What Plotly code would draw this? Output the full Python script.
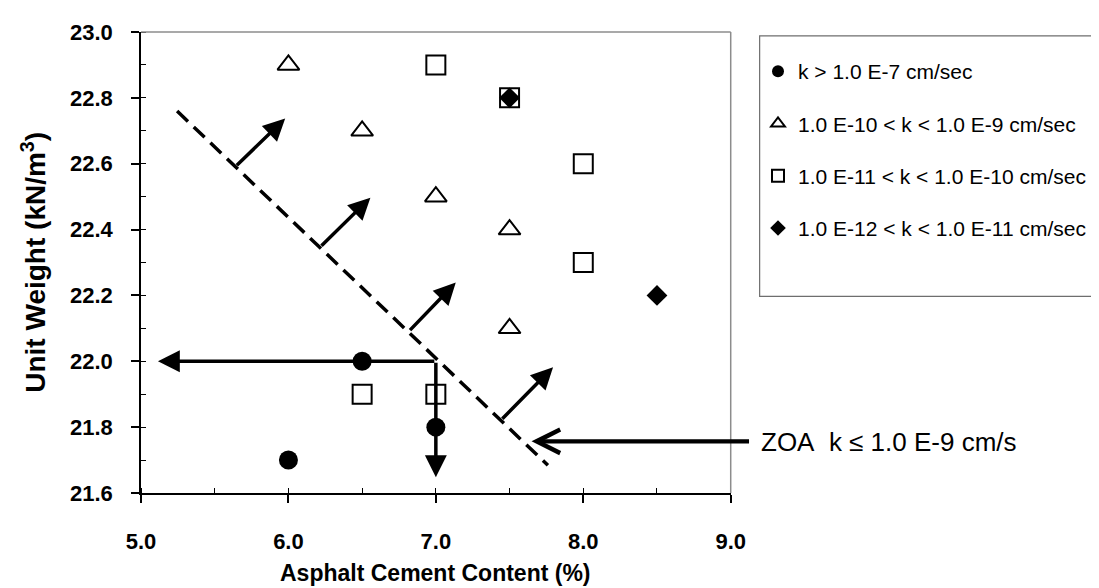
import plotly.graph_objects as go

# ---- data ----
circ_x = [6.0, 6.5, 7.0]
circ_y = [21.7, 22.0, 21.8]
tri_x = [6.0, 6.5, 7.0, 7.5, 7.5]
tri_y = [22.9, 22.7, 22.5, 22.4, 22.1]
sq_x = [7.0, 7.5, 8.0, 8.0, 6.5, 7.0]
sq_y = [22.9, 22.8, 22.6, 22.3, 21.9, 21.9]
dia_x = [7.5, 8.5]
dia_y = [22.8, 22.2]

series_names = [
    "k &gt; 1.0 E-7 cm/sec",
    "1.0 E-10 &lt; k &lt; 1.0 E-9 cm/sec",
    "1.0 E-11 &lt; k &lt; 1.0 E-10 cm/sec",
    "1.0 E-12 &lt; k &lt; 1.0 E-11 cm/sec",
]

# ZOA boundary (dashed line) end points
zoa_x = [5.245, 7.76]
zoa_y = [22.76, 21.684]

# perpendicular arrows (tail on the boundary -> head)
perp_tail_x = [5.64, 6.214, 6.815, 7.441]
perp_tail_y = [22.591, 22.346, 22.090, 21.821]
perp_head_x = [5.978, 6.556, 7.135, 7.795]
perp_head_y = [22.737, 22.497, 22.239, 21.982]

# read-off arrows from the (7.0, 22.0) point
read_x0, read_y0 = 7.0, 22.0
read_left_x = 5.115
read_down_y = 21.648

# ZOA label arrow head
zoa_arrow_x, zoa_arrow_y = 7.649, 21.757
zoa_label = "ZOA\u00a0\u00a0k \u2264 1.0 E-9 cm/s"

x_ticks = [5.0, 6.0, 7.0, 8.0, 9.0]
y_ticks = [21.6, 21.8, 22.0, 22.2, 22.4, 22.6, 22.8, 23.0]

FONT = "Liberation Sans, Arial, sans-serif"

# plot area in pixels (for paper-coordinate conversions)
L, R, T, B = 133, 724, 21, 485
PW, PH = R - L, B - T


def px_x(p):
    return (p - L) / PW


def px_y(p):
    return (B - p) / PH


fig = go.Figure()

fig.add_trace(go.Scatter(
    x=zoa_x, y=zoa_y, mode="lines", showlegend=False, hoverinfo="skip",
    line=dict(color="black", width=3.5, dash="15px,8px")))

fig.add_trace(go.Scatter(
    x=circ_x, y=circ_y, mode="markers", name=series_names[0], legendgroup="g1",
    marker=dict(symbol="circle", size=19, color="black")))
fig.add_trace(go.Scatter(
    x=tri_x, y=tri_y, mode="markers", name=series_names[1], legendgroup="g2",
    marker=dict(symbol="triangle-up-open", size=19, color="black",
                line=dict(width=2, color="black"))))
fig.add_trace(go.Scatter(
    x=sq_x, y=sq_y, mode="markers", name=series_names[2], legendgroup="g3",
    marker=dict(symbol="square-open", size=19, color="black",
                line=dict(width=2, color="black"))))
fig.add_trace(go.Scatter(
    x=dia_x, y=dia_y, mode="markers", name=series_names[3], legendgroup="g4",
    marker=dict(symbol="diamond", size=16, color="black")))

AW, AS = 3.5, 1.25
annotations = []
for tx, ty, hx, hy in zip(perp_tail_x, perp_tail_y, perp_head_x, perp_head_y):
    annotations.append(dict(
        x=hx, y=hy, ax=tx, ay=ty, xref="x", yref="y", axref="x", ayref="y",
        text="", showarrow=True, arrowhead=2, arrowsize=AS, arrowwidth=AW,
        arrowcolor="black", standoff=0, startstandoff=0))

annotations.append(dict(
    x=read_left_x, y=read_y0, ax=read_x0, ay=read_y0, xref="x", yref="y",
    axref="x", ayref="y", text="", showarrow=True, arrowhead=2, arrowsize=AS,
    arrowwidth=AW, arrowcolor="black", standoff=0, startstandoff=0))
annotations.append(dict(
    x=read_x0, y=read_down_y, ax=read_x0, ay=read_y0, xref="x", yref="y",
    axref="x", ayref="y", text="", showarrow=True, arrowhead=2, arrowsize=AS,
    arrowwidth=AW, arrowcolor="black", standoff=0, startstandoff=0))
annotations.append(dict(
    x=zoa_arrow_x, y=zoa_arrow_y, ax=219, ay=0, xref="x", yref="y",
    text="", showarrow=True, arrowhead=5, arrowsize=1.1, arrowwidth=4.2,
    arrowcolor="black", standoff=0, startstandoff=0))
annotations.append(dict(
    x=px_x(752), y=px_y(434), xref="paper", yref="paper",
    text=zoa_label, showarrow=False, xanchor="left", yanchor="middle",
    font=dict(family=FONT, size=26, color="black")))

# axis titles
annotations.append(dict(
    x=0.5, y=px_y(566), xref="paper", yref="paper",
    text="<b>Asphalt Cement Content (%)</b>",
    showarrow=False, xanchor="center", yanchor="middle",
    font=dict(family=FONT, size=23, color="black")))
annotations.append(dict(
    x=px_x(25), y=0.5, xref="paper", yref="paper",
    text="<b>Unit Weight (kN/m<sup>3</sup>)</b>", textangle=-90,
    showarrow=False, xanchor="center", yanchor="middle",
    font=dict(family=FONT, size=28, color="black")))

shapes = [
    # plot frame top & right (gray)
    dict(type="line", xref="paper", yref="paper", x0=0, x1=1, y0=1, y1=1,
         line=dict(color="#8c8c8c", width=1.5)),
    dict(type="line", xref="paper", yref="paper", x0=1, x1=1, y0=0, y1=1,
         line=dict(color="#8c8c8c", width=1.5)),
    # legend box
    dict(type="rect", xref="paper", yref="paper",
         x0=px_x(753), x1=px_x(1097), y0=px_y(287), y1=px_y(25),
         line=dict(color="#6e6e6e", width=1.2)),
]

fig.update_layout(
    width=1099, height=588,
    margin=dict(l=L, r=1099 - R, t=T, b=588 - B),
    paper_bgcolor="white", plot_bgcolor="white",
    font=dict(family=FONT, color="black"),
    annotations=annotations, shapes=shapes,
    showlegend=True,
    legend=dict(
        xref="container", yref="container", x=750 / 1099, y=1 - 43 / 588,
        xanchor="left", yanchor="top", bgcolor="rgba(0,0,0,0)", borderwidth=0,
        font=dict(family=FONT, size=21, color="black"),
        tracegroupgap=22, itemsizing="constant"),
)

fig.update_xaxes(
    range=[5.0, 9.0], tickvals=x_ticks, tickformat=".1f",
    showline=True, linecolor="black", linewidth=1.5, showgrid=False, zeroline=False,
    ticks="outside", ticklen=8, tickwidth=1.5, tickcolor="black",
    ticklabelstandoff=20,
    tickfont=dict(family=FONT, size=22, color="black", weight="bold"),
    minor=dict(dtick=0.5, ticks="inside", ticklen=5, tickwidth=1, tickcolor="black"))
fig.update_yaxes(
    range=[21.6, 23.0], tickvals=y_ticks, tickformat=".1f",
    showline=True, linecolor="black", linewidth=1.5, showgrid=False, zeroline=False,
    ticks="outside", ticklen=8, tickwidth=1.5, tickcolor="black",
    ticklabelstandoff=14,
    tickfont=dict(family=FONT, size=22, color="black", weight="bold"),
    minor=dict(dtick=0.1, ticks="inside", ticklen=5, tickwidth=1, tickcolor="black"))

fig.write_html("out.html")
